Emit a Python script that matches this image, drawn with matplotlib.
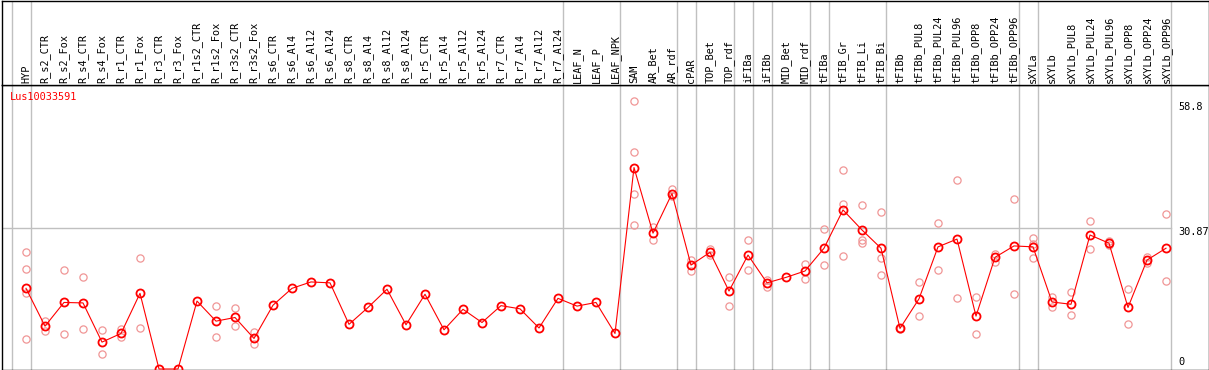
import matplotlib

matplotlib.use("Agg")
import matplotlib.pyplot as plt

# --- data -----------------------------------------------------------------
gene = "Lus10033591"

labels = [
    "HYP", "R_s2_CTR", "R_s2_Fox", "R_s4_CTR", "R_s4_Fox", "R_r1_CTR", "R_r1_Fox",
    "R_r3_CTR", "R_r3_Fox", "R_r1s2_CTR", "R_r1s2_Fox", "R_r3s2_CTR", "R_r3s2_Fox",
    "R_s6_CTR", "R_s6_Al4", "R_s6_Al12", "R_s6_Al24", "R_s8_CTR", "R_s8_Al4",
    "R_s8_Al12", "R_s8_Al24", "R_r5_CTR", "R_r5_Al4", "R_r5_Al12", "R_r5_Al24",
    "R_r7_CTR", "R_r7_Al4", "R_r7_Al12", "R_r7_Al24", "LEAF_N", "LEAF_P", "LEAF_NPK",
    "SAM", "AR_Bet", "AR_rdf", "cPAR", "TOP_Bet", "TOP_rdf", "iFIBa", "iFIBb",
    "MID_Bet", "MID_rdf", "tFIBa", "tFIB_Gr", "tFIB_Li", "tFIB_Bi", "tFIBb",
    "tFIBb_PUL8", "tFIBb_PUL24", "tFIBb_PUL96", "tFIBb_OPP8", "tFIBb_OPP24",
    "tFIBb_OPP96", "sXYLa", "sXYLb", "sXYLb_PUL8", "sXYLb_PUL24", "sXYLb_PUL96",
    "sXYLb_OPP8", "sXYLb_OPP24", "sXYLb_OPP96",
]

means = [
    17.7, 9.4, 14.6, 14.5, 5.9, 7.8, 16.6, 0.0, 0.0, 14.9, 10.5, 11.3, 6.7,
    14.0, 17.7, 19.1, 18.9, 9.8, 13.5, 17.5, 9.7, 16.4, 8.6, 13.1, 10.2,
    13.9, 13.2, 9.0, 15.5, 13.8, 14.6, 7.8,
    44.2, 29.8, 38.5, 22.8, 25.6, 17.1, 25.0, 18.9, 20.1, 21.5,
    26.5, 34.9, 30.5, 26.5, 8.9, 15.4, 26.8, 28.5, 11.6, 24.5, 27.0,
    26.8, 14.7, 14.2, 29.4, 27.6, 13.5, 23.9, 26.5,
]

replicates = [
    [25.6, 21.9, 16.6, 6.5], [10.6, 8.4], [21.7, 7.6], [20.1, 8.8], [8.6, 3.4],
    [8.7, 7.0], [24.3, 8.9], [], [], [], [13.9, 7.0], [13.3, 9.4], [8.1, 5.5],
    [], [], [], [], [], [], [], [], [], [], [], [],
    [], [], [], [], [], [], [],
    [58.8, 47.5, 38.5, 31.5], [31.2, 28.2], [39.4, 38.0], [23.9, 21.5],
    [26.3, 25.0], [20.1, 13.8], [28.2, 21.7], [19.5, 17.9], [], [23.0, 19.7],
    [30.7, 22.8], [43.6, 36.2, 24.7], [35.9, 28.2, 27.6], [34.4, 24.3, 20.6],
    [8.9, 8.7], [19.0, 11.6], [32.0, 21.7], [41.4, 15.5], [15.7, 7.6],
    [25.3, 23.5], [37.4, 16.4],
    [28.7, 27.5, 24.3], [15.7, 13.5], [16.9, 11.8], [32.4, 26.3], [28.0, 27.3],
    [17.6, 9.8], [24.6, 23.3], [33.9, 19.2],
]

# group separators fall just after these column indices
group_ends = [-1, 0, 28, 31, 34, 35, 37, 38, 39, 41, 42, 45, 52, 53, 60]

y_ticks = [0, 30.87, 58.8]
y_tick_labels = ["0", "30.87", "58.8"]

# --- layout (pixel geometry of the original rendering) --------------------
W, H, DPI = 1209, 370, 100
X0, DX = 26.0, 19.0          # pixel centre of the first column, column pitch
Y0, PX_PER_UNIT = 369.0, 4.558
LEFT, RIGHT, TOP, HEAD, BOTTOM = 1.5, 1208.5, 0.5, 85.0, 369.5

red = "#FF0000"
pale = "#F09696"
grid = "#C0C0C0"
mono = "DejaVu Sans Mono"

fig = plt.figure(figsize=(W / DPI, H / DPI), dpi=DPI)
fig.patch.set_facecolor("white")

xlim = ((LEFT - X0) / DX, (RIGHT - X0) / DX)
ax = fig.add_axes([LEFT / W, (H - BOTTOM) / H, (RIGHT - LEFT) / W, (BOTTOM - HEAD) / H])
axh = fig.add_axes([LEFT / W, (H - HEAD) / H, (RIGHT - LEFT) / W, (HEAD - TOP) / H])

for a in (ax, axh):
    a.set_xlim(*xlim)
    a.set_xticks([])
    a.set_yticks([])
    for s in a.spines.values():
        s.set_color("black")
        s.set_linewidth(1.0)
    for g in group_ends:
        a.axvline(g + 0.25, color=grid, linewidth=1.0, zorder=1)

ax.set_ylim((Y0 - BOTTOM) / PX_PER_UNIT, (Y0 - HEAD) / PX_PER_UNIT)
axh.set_ylim(0, 1)

x = list(range(len(labels)))

# reference line at the middle tick, stopping at the last separator
ax.plot([xlim[0], group_ends[-1] + 0.25], [y_ticks[1]] * 2, color=grid,
        linewidth=1.0, zorder=1)

# replicate values
for i, reps in enumerate(replicates):
    ax.plot([i] * len(reps), reps, linestyle="none", marker="o", markersize=5.2,
            markerfacecolor="none", markeredgecolor=pale, markeredgewidth=0.9,
            zorder=2)

# mean profile
ax.plot(x, means, color=red, linewidth=0.8, marker="o", markersize=5.8,
        markerfacecolor="none", markeredgecolor=red, markeredgewidth=1.3,
        zorder=3, clip_on=False)

# value labels at the right edge; pixel nudges keep them inside the frame
label_x = (1178 - X0) / DX
nudge_px = [-7.0, 3.7, 5.7]
for v, t, dpx in zip(y_ticks, y_tick_labels, nudge_px):
    ax.text(label_x, v - dpx / PX_PER_UNIT, t, fontsize=7.4, family=mono,
            color="black", ha="left", va="center")

# column labels in the header strip
for i, lab in enumerate(labels):
    axh.text(i, 2 / (HEAD - TOP), lab, rotation=90, ha="center", va="bottom",
             fontsize=7.4, family=mono, color="black")

ax.text((10 - X0) / DX, (Y0 - 97) / PX_PER_UNIT, gene, fontsize=7.4, family=mono,
        color=red, ha="left", va="center")

fig.savefig("out.png", dpi=DPI)
